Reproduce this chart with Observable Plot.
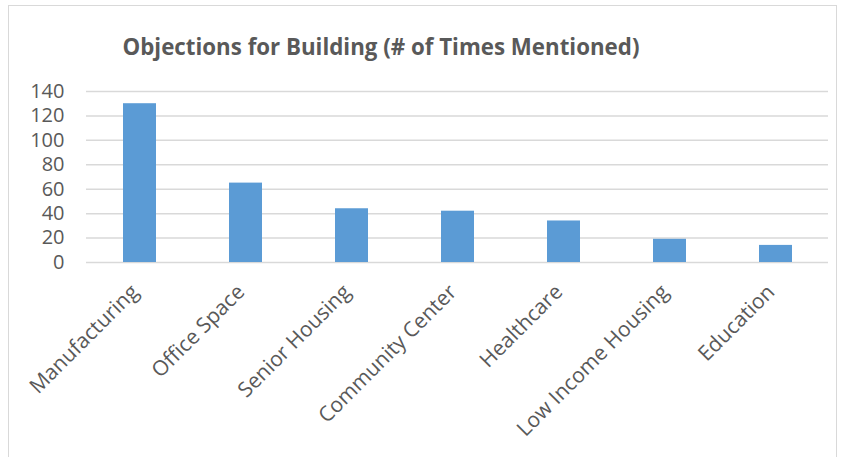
<!DOCTYPE html>
<html>
<head>
<meta charset="utf-8">
<script src="https://cdn.jsdelivr.net/npm/d3@7"></script>
<script src="https://cdn.jsdelivr.net/npm/@observablehq/plot@0.6"></script>
<style>
  html, body { margin: 0; padding: 0; background: #fff; }
  body { width: 845px; height: 457px; position: relative; overflow: hidden; }
  #frame { position: absolute; left: 8px; top: 5px; width: 829px; height: 470px; border: 1px solid #d9d9d9; box-sizing: border-box; }
  #title { position: absolute; left: 0; width: 762px; top: 31px; text-align: center; font-family: "Open Sans", sans-serif; font-weight: bold; font-size: 22.3px; color: #595959; }
  #chart { position: absolute; left: 0; top: 75px; }
</style>
</head>
<body>
<div id="frame"></div>
<div id="title">Objections for Building (# of Times Mentioned)</div>
<div id="chart"></div>
<script>
const categories = ["Manufacturing", "Office Space", "Senior Housing", "Community Center", "Healthcare", "Low Income Housing", "Education"];
const values = [130, 65, 44, 42, 34, 19, 14];
const yTicks = [0, 20, 40, 60, 80, 100, 120, 140];

const data = categories.map((c, i) => ({category: c, value: values[i]}));

const chart = Plot.plot({
  width: 845,
  height: 382,
  marginLeft: 86,
  marginRight: 17,
  marginTop: 16,
  marginBottom: 195,
  style: {fontFamily: "'Open Sans', sans-serif", fontSize: "20px", color: "#595959", background: "transparent"},
  x: {domain: categories, paddingInner: 0.69, paddingOuter: 0.345, label: null},
  y: {domain: [0, 140], ticks: yTicks, label: null},
  marks: [
    Plot.gridY(yTicks, {stroke: "#d9d9d9", strokeOpacity: 1, strokeWidth: 1.5}),
    Plot.barY(data, {x: "category", y: "value", fill: "#5b9bd5"}),
    Plot.axisY(yTicks, {tickSize: 0, tickPadding: 22, fontSize: 20, fill: "#595959", label: null}),
    Plot.axisX({tickSize: 0, tickPadding: 26, dx: -5, tickRotate: -45, fontSize: 21, fill: "#595959", label: null})
  ]
});
document.getElementById("chart").appendChild(chart);
</script>
</body>
</html>
